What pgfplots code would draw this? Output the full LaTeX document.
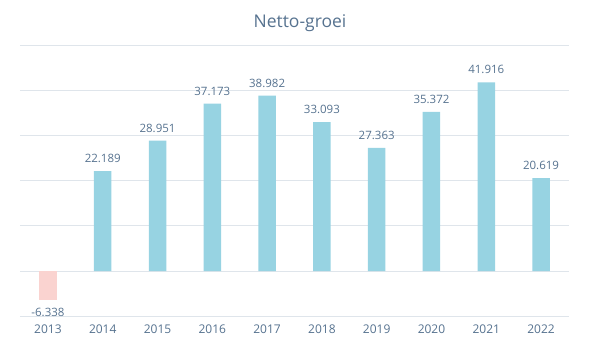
\documentclass[border=0pt]{standalone}
\usepackage{pgfplots}
\pgfplotsset{compat=1.18}
\usepackage{fontspec}
\setmainfont{Open Sans}
\definecolor{barblue}{HTML}{97D3E2}
\definecolor{barpink}{HTML}{FAD3D0}
\definecolor{txt}{HTML}{56728F}
\definecolor{gridc}{HTML}{DFE5EB}
\begin{document}
\begin{tikzpicture}[x=1pt,y=1pt]
\path[use as bounding box] (0,0) rectangle (605,351);
\node[text=txt,font=\fontsize{17.5}{20}\selectfont, anchor=base] at (300,323) {Netto-groei};
\begin{axis}[
  at={(20pt,35pt)}, anchor=south west,
  scale only axis, width=549pt, height=270pt,
  xmin=-0.51, xmax=9.51, ymin=-10, ymax=50,
  axis line style={draw=none},
  ytick={-10,0,...,50}, yticklabels={},
  ymajorgrids, grid style={draw=gridc, line width=1pt},
  major tick length=0pt,
  xtick={0,...,9},
  xticklabels={2013,2014,2015,2016,2017,2018,2019,2020,2021,2022},
  xticklabel style={text=txt,font=\fontsize{12}{14}\selectfont, anchor=base, yshift=-17.5pt},
  ybar, bar width=17.5pt, bar shift=0pt,
  point meta=explicit symbolic,
  nodes near coords,
  clip=false,
]
\addplot[fill=barpink, draw=none, nodes near coords style={text=txt,font=\fontsize{11.5}{13}\selectfont, anchor=base, yshift=-17pt}] coordinates {(0,-6.338) [-6.338]};
\addplot[fill=barblue, draw=none, nodes near coords style={text=txt,font=\fontsize{11.5}{13}\selectfont, anchor=base, yshift=8.5pt}] coordinates {
(1,22.189) [22.189]
(2,28.951) [28.951]
(3,37.173) [37.173]
(4,38.982) [38.982]
(5,33.093) [33.093]
(6,27.363) [27.363]
(7,35.372) [35.372]
(8,41.916) [41.916]
(9,20.619) [20.619]
};
\end{axis}
\end{tikzpicture}
\end{document}
